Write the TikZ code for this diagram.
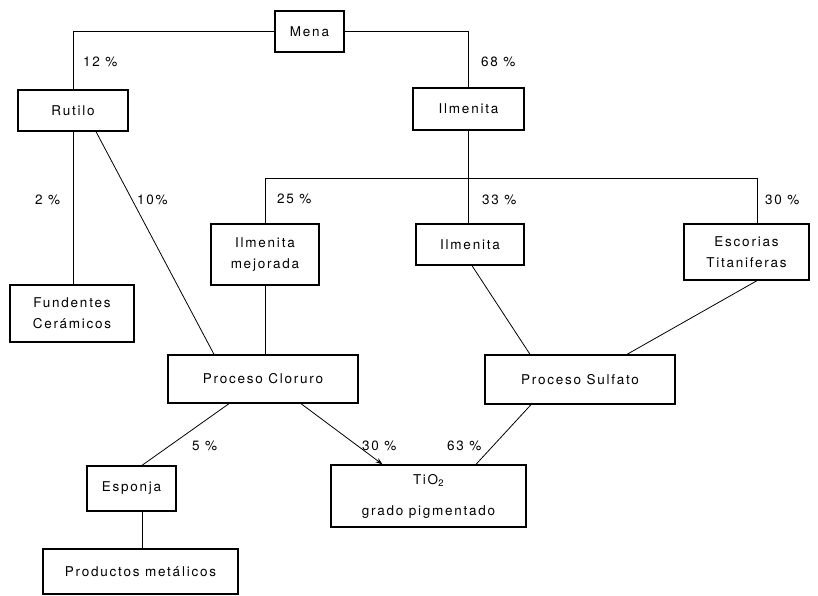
\documentclass[tikz,border=0pt]{standalone}
\usepackage{fontspec}
\setmainfont{TeX Gyre Heros}[LetterSpace=13]
\usetikzlibrary{arrows.meta}
\begin{document}
\begin{tikzpicture}[x=1pt,y=-1pt,
  box/.style={draw,line width=1.3pt,inner sep=0pt,align=center,font=\fontsize{13.5}{21}\selectfont},
  lab/.style={anchor=west,inner sep=0pt,font=\fontsize{13.5}{15}\selectfont},
  conn/.style={line width=0.8pt}]
\useasboundingbox (0,0) rectangle (818,595);
% boxes
\node[box,minimum width=69,minimum height=41] (mena) at (309.5,31.5) {Mena};
\node[box,minimum width=110,minimum height=41] (rutilo) at (73,110.5) {Rutilo};
\node[box,minimum width=111,minimum height=42] (ilm1) at (468.5,109) {Ilmenita};
\node[box,minimum width=108,minimum height=61] (ilmj) at (265,254.5) {Ilmenita\\mejorada};
\node[box,minimum width=108,minimum height=41] (ilm2) at (470,244.5) {Ilmenita};
\node[box,minimum width=125,minimum height=56] (esc) at (746.5,252) {Escorias\\Titaniferas};
\node[box,minimum width=124,minimum height=57] (fund) at (72,313.5) {Fundentes\\Cerámicos};
\node[box,minimum width=190,minimum height=48] (clor) at (263,379) {Proceso Cloruro};
\node[box,minimum width=190,minimum height=49] (sulf) at (580,379.5) {Proceso Sulfato};
\node[box,minimum width=89,minimum height=45] (espo) at (131.5,488.5) {Esponja};
\node[box,minimum width=195,minimum height=62,font=\fontsize{13.5}{31}\selectfont] (tio) at (428.5,496) {TiO\textsubscript{2}\\grado pigmentado};
\node[box,minimum width=195,minimum height=45] (prod) at (140.5,571.5) {Productos metálicos};
% labels
\node[lab] (l12) at (83,62) {12 \%};
\node[lab] (l68) at (481,62) {68 \%};
\node[lab] (l2) at (35,200) {2 \%};
\node[lab] (l10) at (137,200) {10\%};
\node[lab] (l25) at (277,199) {25 \%};
\node[lab] (l33) at (482,200) {33 \%};
\node[lab] (l30a) at (765,200) {30 \%};
\node[lab] (l5) at (192,446) {5 \%};
\node[lab] (l30b) at (362,446) {30 \%};
\node[lab] (l63) at (447,446) {63 \%};
% junction
\coordinate (jL) at (265,178);
\coordinate (jR) at (757,178);
% connectors
\draw[conn] (mena.west) -| (rutilo.north);
\draw[conn] (mena.east) -| (ilm1.north);
\draw[conn] (ilm1.south) -- (ilm1.south |- ilm2.north);
\draw[conn] (ilmj.north) -- (jL) -- (jR) -- (jR |- esc.north);
\draw[conn] (rutilo.south) -- (rutilo.south |- fund.north);
\draw[conn] ([xshift=23]rutilo.south) -- ([xshift=-49]clor.north);
\draw[conn] (ilmj.south) -- (ilmj.south |- clor.north);
\draw[conn] ([xshift=2]ilm2.south) -- ([xshift=-50]sulf.north);
\draw[conn] ([xshift=10.5]esc.south) -- ([xshift=47]sulf.north);
\draw[conn] ([xshift=-34]clor.south) -- ([xshift=10.5]espo.north);
\draw[conn,-{Stealth[length=7pt,width=5pt]}] ([xshift=38]clor.south) -- ([xshift=-46]tio.north);
\draw[conn] ([xshift=-49]sulf.south) -- ([xshift=47.5]tio.north);
\draw[conn] ([xshift=10.5]espo.south) -- ([xshift=10.5]espo.south |- prod.north);
\end{tikzpicture}
\end{document}
